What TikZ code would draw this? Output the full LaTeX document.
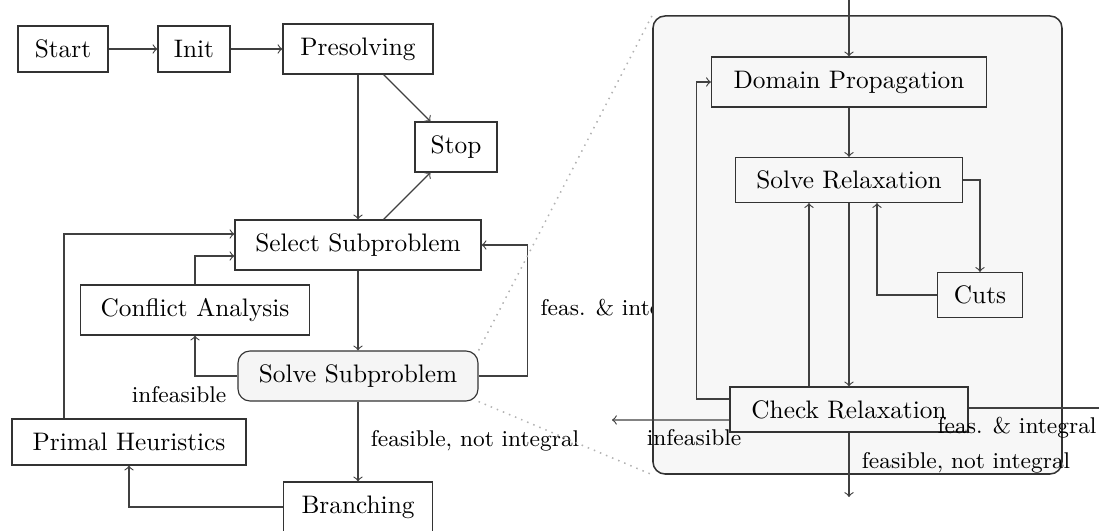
\documentclass[tikz,border=0pt]{standalone}
\newdimen\pxu \pxu=0.395pt
\begin{document}
\begin{tikzpicture}[x=0.395pt,y=-0.395pt,>=to,
  box/.style={draw=black!80, rectangle, inner sep=0pt, line width=0.45pt, font=\normalsize},
  lbl/.style={font=\small, inner sep=0pt},
  arr/.style={->, draw=black!75, line width=0.45pt},
  conn/.style={draw=black!75, line width=0.45pt},
  zoomline/.style={dotted, gray!60, line width=0.6pt}]
\useasboundingbox (0,0) rectangle (1099,531);
% left part
\node[box, minimum width=90\pxu, minimum height=46\pxu] (start) at (63,49) {Start};
\node[box, minimum width=72\pxu, minimum height=46\pxu] (init) at (194,49) {Init};
\node[box, minimum width=150\pxu, minimum height=50\pxu] (presolving) at (358,49) {Presolving};
\node[box, minimum width=82\pxu, minimum height=50\pxu] (stop) at (456,147) {Stop};
\node[box, minimum width=246\pxu, minimum height=50\pxu] (select) at (358,245) {Select Subproblem};
\node[box, minimum width=229\pxu, minimum height=50\pxu] (conflict) at (195,310) {Conflict Analysis};
\node[box, rounded corners=12\pxu, fill=gray!8, minimum width=240\pxu, minimum height=50\pxu] (solvesub) at (358,376) {Solve Subproblem};
\node[box, minimum width=234\pxu, minimum height=46\pxu] (primal) at (129,442) {Primal Heuristics};
\node[box, minimum width=149\pxu, minimum height=50\pxu] (branching) at (358,507) {Branching};

\draw[arr] (start) -- (init);
\draw[arr] (init) -- (presolving);
\draw[arr] (presolving) -- (select);
\draw[arr] (presolving) -- (stop);
\draw[arr] (select) -- (stop);
\draw[arr] (select) -- (solvesub);
\draw[arr] (solvesub.east) -- ++(49,0) |- (select.east);
\node[lbl, anchor=west] (lfeasint) at (540,310) {feas. \& integral};
\draw[arr] (solvesub.west) -| (conflict.south);
\node[lbl] (linfeas) at (179,395) {infeasible};
\draw[arr] (conflict.north) |- ([yshift=-11\pxu]select.west);
\draw[arr] ([xshift=-65\pxu]primal.north) |- ([yshift=11\pxu]select.west);
\draw[arr] (solvesub) -- (branching);
\node[lbl] (lfeasnot) at (475,441) {feasible, not integral};
\draw[arr] (branching.west) -| (primal.south);

% zoomed part
\node[draw=black!80, rounded corners=12\pxu, fill=gray!6, line width=0.6pt, inner sep=0pt,
      minimum width=409\pxu, minimum height=458\pxu] (outer) at (857.5,245) {};
\draw[zoomline] (solvesub.north east) -- (outer.north west);
\draw[zoomline] (solvesub.south east) -- (outer.south west);

\node[box, minimum width=275\pxu, minimum height=50\pxu] (domain) at (849,82) {Domain Propagation};
\node[box, minimum width=227\pxu, minimum height=45\pxu] (solverel) at (849,180) {Solve Relaxation};
\node[box, minimum width=85\pxu, minimum height=45\pxu] (cuts) at (980,295) {Cuts};
\node[box, minimum width=238\pxu, minimum height=45\pxu] (check) at (849,409.5) {Check Relaxation};

\coordinate (topin) at (849,-5);
\coordinate (outinfeas) at (612,420);
\coordinate (outint) at (1110,408);
\coordinate (outnot) at (849,497);

\draw[arr] (topin) -- (domain);
\draw[arr] (domain) -- (solverel);
\draw[arr] (solverel.east) -| (cuts.north);
\draw[arr] (cuts.west) -| ([xshift=28\pxu]solverel.south);
\draw[arr] ([xshift=-40\pxu]check.north) -- ([xshift=-40\pxu]solverel.south);
\draw[arr] (solverel) -- (check);
\draw[arr] ([yshift=10.5\pxu]check.west) -- ++(-33,0) |- (domain.west);
\draw[arr] ([yshift=-10.5\pxu]check.west) -- (outinfeas);
\node[lbl] (rinfeas) at (694,438) {infeasible};
\draw[conn] ([yshift=1.5\pxu]check.east) -- (outint);
\node[lbl] (rfeasint) at (1017,428) {feas. \& integral};
\draw[arr] (check) -- (outnot);
\node[lbl] (rfeasnot) at (966,463) {feasible, not integral};
\end{tikzpicture}
\end{document}
